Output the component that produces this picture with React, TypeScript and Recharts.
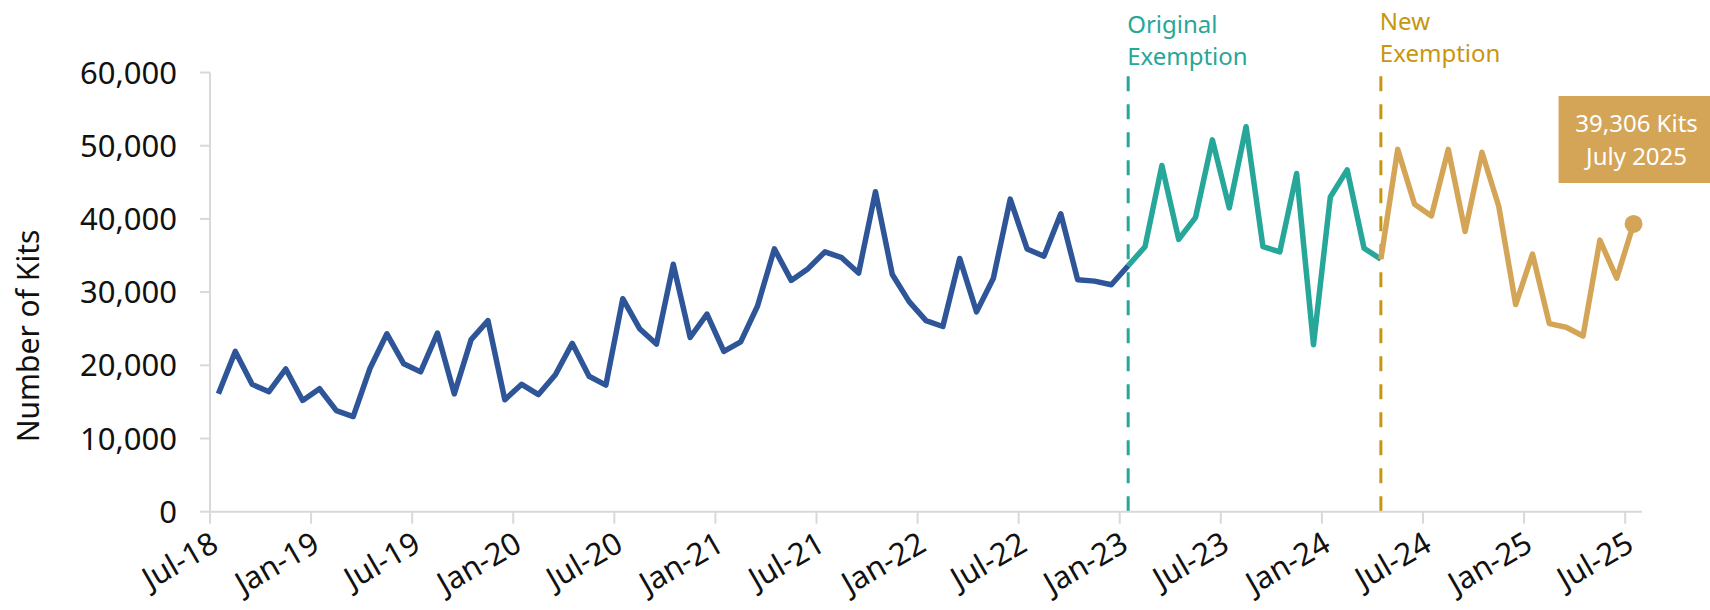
import React from 'react'
import { LineChart, Line, XAxis, YAxis, ReferenceLine, ReferenceDot } from 'recharts'

const months = [
  'Jul-18', 'Aug-18', 'Sep-18', 'Oct-18', 'Nov-18', 'Dec-18',
  'Jan-19', 'Feb-19', 'Mar-19', 'Apr-19', 'May-19', 'Jun-19', 'Jul-19', 'Aug-19', 'Sep-19', 'Oct-19', 'Nov-19', 'Dec-19',
  'Jan-20', 'Feb-20', 'Mar-20', 'Apr-20', 'May-20', 'Jun-20', 'Jul-20', 'Aug-20', 'Sep-20', 'Oct-20', 'Nov-20', 'Dec-20',
  'Jan-21', 'Feb-21', 'Mar-21', 'Apr-21', 'May-21', 'Jun-21', 'Jul-21', 'Aug-21', 'Sep-21', 'Oct-21', 'Nov-21', 'Dec-21',
  'Jan-22', 'Feb-22', 'Mar-22', 'Apr-22', 'May-22', 'Jun-22', 'Jul-22', 'Aug-22', 'Sep-22', 'Oct-22', 'Nov-22', 'Dec-22',
  'Jan-23', 'Feb-23', 'Mar-23', 'Apr-23', 'May-23', 'Jun-23', 'Jul-23', 'Aug-23', 'Sep-23', 'Oct-23', 'Nov-23', 'Dec-23',
  'Jan-24', 'Feb-24', 'Mar-24', 'Apr-24', 'May-24', 'Jun-24', 'Jul-24', 'Aug-24', 'Sep-24', 'Oct-24', 'Nov-24', 'Dec-24',
  'Jan-25', 'Feb-25', 'Mar-25', 'Apr-25', 'May-25', 'Jun-25', 'Jul-25',
]

const tickLabels = [
  'Jul-18', 'Jan-19', 'Jul-19', 'Jan-20', 'Jul-20', 'Jan-21', 'Jul-21', 'Jan-22',
  'Jul-22', 'Jan-23', 'Jul-23', 'Jan-24', 'Jul-24', 'Jan-25', 'Jul-25',
]

const yTicks = [0, 10000, 20000, 30000, 40000, 50000, 60000]

// Jul-18 .. Jan-23
const preExemption = [
  16100, 21900, 17400, 16400, 19500, 15200, 16800, 13800, 13000, 19600, 24300, 20200,
  19100, 24400, 16100, 23500, 26100, 15300, 17400, 16000, 18700, 23000, 18500, 17300,
  29100, 25000, 22900, 33800, 23800, 27000, 21900, 23200, 28100, 35900, 31600, 33200,
  35500, 34700, 32600, 43700, 32400, 28700, 26100, 25300, 34600, 27300, 31900, 42700,
  35900, 34900, 40700, 31700, 31500, 31000, 33600,
]

// Jan-23 .. Apr-24
const originalExemption = [
  33600, 36200, 47300, 37200, 40200, 50800, 41500, 52600,
  36200, 35500, 46200, 22800, 43000, 46700, 36000, 34500,
]

// Apr-24 .. Jul-25
const newExemption = [
  34500, 49500, 42000, 40400, 49500, 38300, 49100, 41700,
  28300, 35200, 25700, 25200, 24000, 37100, 31900, 39306,
]

const origStart = preExemption.length - 1
const newStart = origStart + originalExemption.length - 1

const data = months.map((month, i) => ({
  idx: i,
  month,
  pre: i <= origStart ? preExemption[i] : null,
  orig: i >= origStart && i <= newStart ? originalExemption[i - origStart] : null,
  next: i >= newStart ? newExemption[i - newStart] : null,
}))

const W = 1710
const H = 610
const LEFT = 210
const RIGHT = 68
const TOP = 72.5
const XAXIS_H = 98.3
const BAND = (W - LEFT - RIGHT) / months.length

const FONT = '"Noto Sans", "Open Sans", sans-serif'
const BLUE = '#2E5597'
const TEAL = '#27A69A'
const GOLD = '#D4A556'
const GOLD_DARK = '#C8960C'
const AXIS = '#D9D9D9'
const INK = '#111111'

const XTick = ({ x, y, payload }: any) => {
  const tx = x + 2
  const ty = y + 38
  return (
    <g>
      <line x1={x - BAND / 2} x2={x - BAND / 2} y1={y} y2={y + 12} stroke={AXIS} strokeWidth={2} />
      <text
        x={tx}
        y={ty}
        textAnchor="end"
        fontSize={31}
        fontFamily={FONT}
        fill={INK}
        transform={`rotate(-30 ${tx} ${ty})`}
      >
        {months[payload.value]}
      </text>
    </g>
  )
}

const exemptionLabel = (lines: string[], color: string, baseline: number) => (props: any) => {
  const x = props.viewBox.x - 1
  return (
    <text x={x} y={baseline} fontSize={24} fontFamily={FONT} fill={color}>
      {lines.map((l, i) => (
        <tspan key={l} x={x} y={baseline + i * 32}>
          {l}
        </tspan>
      ))}
    </text>
  )
}

const EndCallout = ({ cx, cy }: any) => {
  const last = newExemption[newExemption.length - 1]
  return (
    <g>
      <circle cx={cx} cy={cy} r={9} fill={GOLD} />
      <rect x={cx - 75} y={cy - 128} width={152} height={87} fill={GOLD} />
      <text x={cx + 3} y={cy - 92} textAnchor="middle" fontSize={24} fontFamily={FONT} fill="#fff">
        {last.toLocaleString('en-US')} Kits
      </text>
      <text x={cx + 3} y={cy - 59} textAnchor="middle" fontSize={24} fontFamily={FONT} fill="#fff">
        July 2025
      </text>
    </g>
  )
}

export default function App() {
  const tickIdx = tickLabels.map((t) => months.indexOf(t))
  return (
    <div style={{ position: 'absolute', left: 0, top: 0, width: W, height: H, background: '#fff' }}>
      <LineChart width={W} height={H} data={data} margin={{ top: TOP, right: RIGHT, bottom: 0, left: 0 }}>
        <XAxis
          dataKey="idx"
          type="number"
          domain={[-0.5, months.length - 0.5]}
          ticks={tickIdx}
          interval={0}
          height={XAXIS_H}
          tickSize={0}
          tickMargin={0}
          tickLine={false}
          axisLine={{ stroke: AXIS, strokeWidth: 2 }}
          tick={<XTick />}
        />
        <YAxis
          width={LEFT}
          domain={[0, 60000]}
          ticks={yTicks}
          interval={0}
          tickSize={10}
          tickMargin={23}
          tickLine={{ stroke: AXIS, strokeWidth: 2 }}
          axisLine={{ stroke: AXIS, strokeWidth: 2 }}
          tick={{ fill: INK, fontSize: 31, fontFamily: FONT }}
          tickFormatter={(v: number) => v.toLocaleString('en-US')}
        />
        <ReferenceLine
          segment={[{ x: origStart, y: 59500 }, { x: origStart, y: 0 }]}
          stroke={TEAL}
          strokeWidth={3}
          strokeDasharray="15 13"
          label={exemptionLabel(['Original', 'Exemption'], TEAL, 33)}
        />
        <ReferenceLine
          segment={[{ x: newStart, y: 59500 }, { x: newStart, y: 0 }]}
          stroke={GOLD_DARK}
          strokeWidth={3}
          strokeDasharray="15 13"
          label={exemptionLabel(['New', 'Exemption'], GOLD_DARK, 29.5)}
        />
        <Line dataKey="pre" stroke={BLUE} strokeWidth={5.5} dot={false} strokeLinejoin="round" isAnimationActive={false} />
        <Line dataKey="orig" stroke={TEAL} strokeWidth={5.5} dot={false} strokeLinejoin="round" isAnimationActive={false} />
        <Line dataKey="next" stroke={GOLD} strokeWidth={5.5} dot={false} strokeLinejoin="round" isAnimationActive={false} />
        <ReferenceDot
          x={months.length - 1}
          y={newExemption[newExemption.length - 1]}
          ifOverflow="visible"
          shape={(p: any) => <EndCallout {...p} />}
        />
        <text
          x={27}
          y={336}
          transform="rotate(-90 27 336)"
          textAnchor="middle"
          dominantBaseline="central"
          fontSize={30}
          fontFamily={FONT}
          fill={INK}
        >
          Number of Kits
        </text>
      </LineChart>
    </div>
  )
}
